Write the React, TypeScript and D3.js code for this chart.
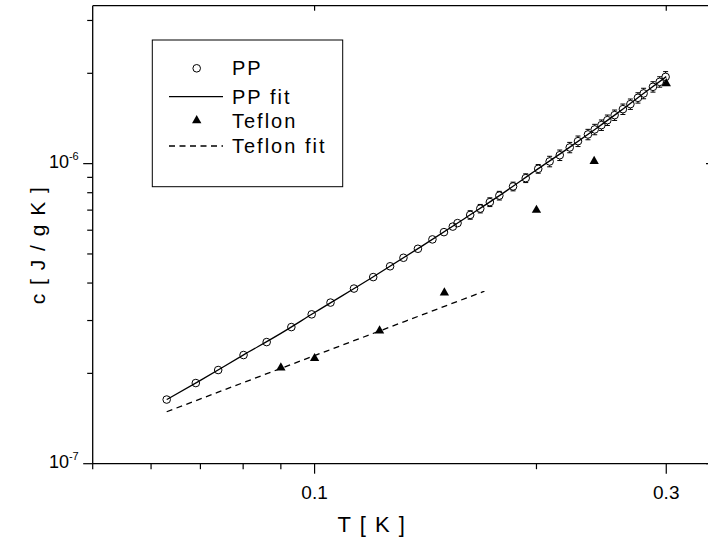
import React from 'react';
import * as d3 from 'd3';

// PP data (T in K, c in J/gK)
const ppT = [0.0630, 0.0690, 0.0740, 0.0801, 0.0861, 0.0930, 0.0991, 0.1051, 0.1131, 0.1201,
  0.1266, 0.1320, 0.1381, 0.1445, 0.1498, 0.1540, 0.1563, 0.1626, 0.1678, 0.1729,
  0.1781, 0.1859, 0.1934, 0.2011, 0.2084, 0.2151, 0.2219, 0.2277, 0.2349, 0.2399,
  0.2450, 0.2496, 0.2553, 0.2620, 0.2682, 0.2746, 0.2795, 0.2878, 0.2939, 0.2994];
const ppC = [1.636e-7, 1.857e-7, 2.052e-7, 2.302e-7, 2.543e-7, 2.853e-7, 3.146e-7, 3.443e-7, 3.834e-7, 4.187e-7,
  4.549e-7, 4.856e-7, 5.203e-7, 5.591e-7, 5.912e-7, 6.168e-7, 6.336e-7, 6.747e-7, 7.081e-7, 7.443e-7,
  7.824e-7, 8.395e-7, 8.948e-7, 9.610e-7, 1.017e-6, 1.067e-6, 1.132e-6, 1.188e-6, 1.251e-6, 1.300e-6,
  1.344e-6, 1.396e-6, 1.451e-6, 1.519e-6, 1.579e-6, 1.657e-6, 1.714e-6, 1.803e-6, 1.873e-6, 1.946e-6];
const ppErr = [0, 0, 0, 0, 0, 0, 0, 0, 0, 0,
  0, 0, 0, 0, 0, 0, 0, 0.22e-7, 0.23e-7, 0.25e-7,
  0.26e-7, 0.28e-7, 0.30e-7, 0.32e-7, 0.041e-6, 0.043e-6, 0.045e-6, 0.048e-6, 0.050e-6, 0.052e-6,
  0.054e-6, 0.056e-6, 0.058e-6, 0.061e-6, 0.063e-6, 0.066e-6, 0.069e-6, 0.072e-6, 0.075e-6, 0.080e-6];

// PP fit curve
const ppFitT = [0.063, 0.07, 0.08, 0.09, 0.1, 0.12, 0.14, 0.16, 0.18, 0.2, 0.22, 0.24, 0.26, 0.28, 0.3];
const ppFitC = [1.636e-7, 1.896e-7, 2.30e-7, 2.718e-7, 3.19e-7, 4.19e-7, 5.32e-7, 6.58e-7, 7.96e-7, 9.53e-7,
  1.118e-6, 1.30e-6, 1.499e-6, 1.72e-6, 1.95e-6];

// Teflon data
const tefT = [0.09, 0.1, 0.1225, 0.15, 0.2, 0.2395, 0.3];
const tefC = [2.088e-7, 2.244e-7, 2.774e-7, 3.712e-7, 7.0e-7, 1.019e-6, 1.850e-6];

// Teflon fit
const tefFitT = [0.063, 0.08, 0.1, 0.12, 0.15, 0.17];
const tefFitC = [1.49e-7, 1.862e-7, 2.292e-7, 2.716e-7, 3.344e-7, 3.758e-7];

// Axis ticks
const xMajor = [0.1, 0.3];
const xMinor = [0.05, 0.06, 0.07, 0.08, 0.09, 0.2];
const yMajor = [1e-7, 1e-6];
const yMinor = [2e-7, 3e-7, 4e-7, 5e-7, 6e-7, 7e-7, 8e-7, 9e-7, 2e-6, 3e-6];
const yMajorExp = ['-7', '-6'];

const legendLabels = ['PP', 'PP fit', 'Teflon', 'Teflon fit'];

const W = 708;
const H = 539;
const FONT = '"Liberation Sans", Arial, sans-serif';

export default function App() {
  const x = d3.scaleLog().domain([0.05, 0.345]).range([92.7, 711]);
  const y = d3.scaleLog().domain([1e-7, 3.36e-6]).range([463.7, 5.7]);
  const [x0, x1] = x.range();
  const [yb, yt] = y.range();

  const line = d3.line<[number, number]>()
    .x(d => x(d[0]))
    .y(d => y(d[1]))
    .curve(d3.curveMonotoneX);

  const ppFit = ppFitT.map((t, i) => [t, ppFitC[i]] as [number, number]);
  const tefFit = tefFitT.map((t, i) => [t, tefFitC[i]] as [number, number]);
  const tri = d3.symbol(d3.symbolTriangle).size(38)();
  const r = 3.8;
  const legendY = [68.3, 96.7, 120.5, 146];

  return (
    <svg width={W} height={H} style={{ position: 'absolute', left: 0, top: 0, background: '#fff' }}
      fontFamily={FONT}>
      <rect width={W} height={H} fill="#fff" />

      {/* fits */}
      <path d={line(ppFit) || ''} fill="none" stroke="#000" strokeWidth={1.3} />
      <path d={line(tefFit) || ''} fill="none" stroke="#000" strokeWidth={1.3} strokeDasharray="6,4.5" />

      {/* PP error bars */}
      {ppT.map((t, i) => {
        const e = ppErr[i];
        if (!e) return null;
        const cx = x(t);
        const yHi = y(ppC[i] + e);
        const yLo = y(ppC[i] - e);
        const yc = y(ppC[i]);
        return (
          <g key={`err-${i}`} stroke="#000" strokeWidth={1}>
            {yc - yHi > r && <line x1={cx} x2={cx} y1={yHi} y2={yc - r} />}
            {yLo - yc > r && <line x1={cx} x2={cx} y1={yc + r} y2={yLo} />}
            <line x1={cx - 2.5} x2={cx + 2.5} y1={yHi} y2={yHi} />
            <line x1={cx - 2.5} x2={cx + 2.5} y1={yLo} y2={yLo} />
          </g>
        );
      })}

      {/* PP points */}
      {ppT.map((t, i) => (
        <circle key={`pp-${i}`} cx={x(t)} cy={y(ppC[i])} r={r} fill="none" stroke="#000" strokeWidth={1} />
      ))}

      {/* Teflon points */}
      {tefT.map((t, i) => (
        <path key={`tef-${i}`} d={tri || ''} transform={`translate(${x(t)},${y(tefC[i])})`} fill="#000" />
      ))}

      {/* frame */}
      <g stroke="#000" strokeWidth={1.3} fill="none">
        <line x1={x0} x2={x1} y1={yb} y2={yb} />
        <line x1={x0} x2={x1} y1={yt} y2={yt} />
        <line x1={x0} x2={x0} y1={yt} y2={yb} />
        <line x1={x1} x2={x1} y1={yt} y2={yb} />
      </g>

      {/* x ticks */}
      <g stroke="#000" strokeWidth={1.2}>
        {xMajor.map(t => (
          <g key={`xM-${t}`}>
            <line x1={x(t)} x2={x(t)} y1={yb} y2={yb + 10} />
            <line x1={x(t)} x2={x(t)} y1={yt} y2={yt + 5} />
          </g>
        ))}
        {xMinor.map(t => (
          <line key={`xm-${t}`} x1={x(t)} x2={x(t)} y1={yb} y2={yb + 5.5} />
        ))}
      </g>
      {xMajor.map(t => (
        <text key={`xl-${t}`} x={x(t)} y={yb + 35} textAnchor="middle" fontSize={19} fill="#000">
          {String(t)}
        </text>
      ))}

      {/* y ticks */}
      <g stroke="#000" strokeWidth={1.2}>
        {yMajor.map(v => (
          <g key={`yM-${v}`}>
            <line x1={x0 - 9.5} x2={x0} y1={y(v)} y2={y(v)} />
            <line x1={x1 - 5} x2={x1} y1={y(v)} y2={y(v)} />
          </g>
        ))}
        {yMinor.map(v => (
          <line key={`ym-${v}`} x1={x0 - 5.5} x2={x0} y1={y(v)} y2={y(v)} />
        ))}
      </g>
      {yMajor.map((v, i) => (
        <text key={`yl-${v}`} x={x0 - 14} y={y(v) + 4.5} textAnchor="end" fontSize={18} fill="#000">
          10<tspan dy={-8.5} fontSize={11}>{yMajorExp[i]}</tspan>
        </text>
      ))}

      {/* axis titles */}
      <text x={372} y={532} textAnchor="middle" fontSize={22} letterSpacing={1.5} fill="#000">T  [ K ]</text>
      <text transform="translate(45,245) rotate(-90)" textAnchor="middle" fontSize={21} letterSpacing={1.5} fill="#000">
        c [ J / g K ]
      </text>

      {/* legend */}
      <rect x={152.3} y={40} width={190.4} height={146.7} fill="#fff" stroke="#000" strokeWidth={1} />
      <circle cx={196.7} cy={legendY[0]} r={r} fill="none" stroke="#000" strokeWidth={1} />
      <line x1={169} x2={223} y1={legendY[1]} y2={legendY[1]} stroke="#000" strokeWidth={1.3} />
      <path d={tri || ''} transform={`translate(196.7,${legendY[2]})`} fill="#000" />
      <line x1={169} x2={223} y1={legendY[3]} y2={legendY[3]} stroke="#000" strokeWidth={1.3} strokeDasharray="6,4.5" />
      {legendLabels.map((lab, i) => (
        <text key={lab} x={232} y={legendY[i] + 7} fontSize={20} letterSpacing={2} fill="#000">
          {lab}
        </text>
      ))}
    </svg>
  );
}
